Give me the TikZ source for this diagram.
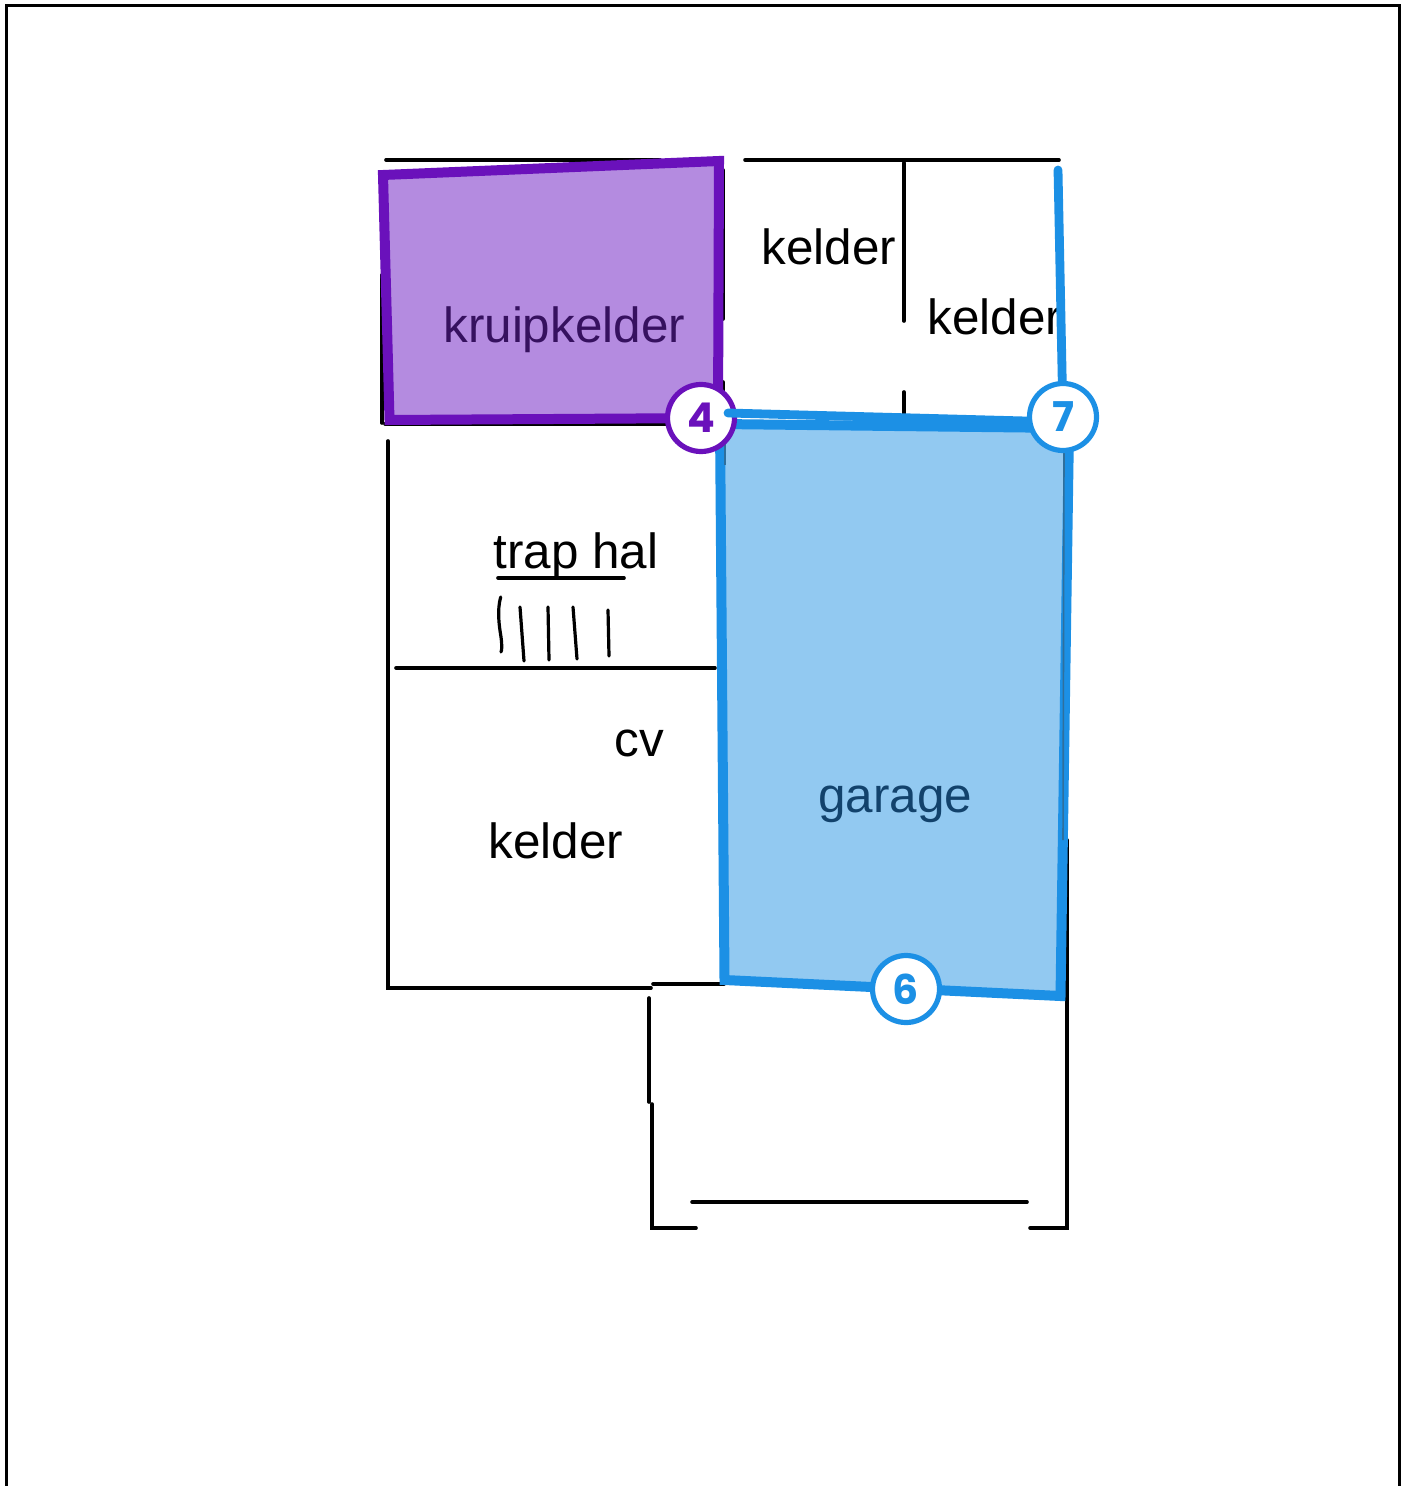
\documentclass[tikz,border=0pt]{standalone}
\usepackage{fontspec}
\setmainfont{Liberation Sans}
\newfontfamily\badgefont{Poppins}
\definecolor{purpleline}{HTML}{6A11BB}
\definecolor{purplefill}{HTML}{B48BE0}
\definecolor{purpletext}{HTML}{36115F}
\definecolor{blueline}{HTML}{1C90E5}
\definecolor{bluefill}{HTML}{92C9F1}
\definecolor{bluetext}{HTML}{12426C}
\definecolor{blueedge}{HTML}{2F6F9C}
\tikzset{
  wall/.style={draw=black,line width=1.8pt,line cap=round},
  stair/.style={draw=black,line width=1.6pt,line cap=round},
  label/.style={anchor=base west,inner sep=0pt,font=\fontsize{24.7}{28}\selectfont},
  room/.style={line width=5pt,line join=miter,draw=#1},
  badge/.style={circle,draw=#1,fill=white,line width=2.6pt,minimum size=33.5pt,inner sep=0pt,text=#1,font=\badgefont\bfseries\fontsize{20.5}{22}\selectfont}
}
\begin{document}
\begin{tikzpicture}[x=0.5pt,y=-0.5pt]
\useasboundingbox (0,0) rectangle (1405,1486);
\fill[white] (0,0) rectangle (1405,1486);
% page frame
\draw[black,line width=1.5pt] (6,1486) -- (6,5.5) -- (1399,5.5) -- (1399,1486);
% walls
\draw[wall] (386,160) -- (660,160);
\draw[wall] (745,160) -- (1059,160);
\draw[wall] (904,163) -- (904,321);
\draw[wall] (904,392) -- (904,416);
\draw[wall] (723,170) -- (723,319);
\draw[wall] (723,382) -- (723,420);
\draw[wall] (382,275) -- (382,423);
\draw[wall] (385,424) -- (700,424);
\draw[wall] (388,441) -- (388,988) -- (651,988);
\draw[wall] (653,984) -- (724,984);
\draw[wall] (649,998) -- (649,1102);
\draw[wall] (652,1104) -- (652,1228) -- (696,1228);
\draw[wall] (692,1202) -- (1027,1202);
\draw[wall] (1030,1228) -- (1067,1228) -- (1067,840);
\draw[wall] (396,668) -- (715,668);
\draw[wall] (498,578) -- (624,578);
% stairs
\draw[stair] (500.7,597) .. controls (497,610) and (499,625) .. (501,637) .. controls (502,645) and (502,650) .. (501,652);
\draw[stair] (520,607) -- (524,661);
\draw[stair] (548,607) -- (549,660);
\draw[stair] (573,607) -- (577,659);
\draw[stair] (608,610) -- (609,656);
% room labels outside the coloured rooms
\node[label] (keldera) at (761,264.5) {kelder};
\node[label] (kelderb) at (927,334.5) {kelder};
\node[label] (traphal) at (493,568) {trap hal};
\node[label] (cv) at (614,756) {cv};
\node[label] (kelderc) at (488,858.5) {kelder};
% coloured rooms
\path[room=purpleline,fill=purplefill] (383,175) -- (719,161) -- (718,418) -- (389.5,420) -- cycle;
\path[room=blueline,fill=bluefill] (720,424) -- (1069,428) -- (1060.5,996) -- (724.5,980) -- cycle;
\draw[draw=blueedge,line width=1.1pt] (725,441) -- (725,465);
\draw[draw=blueedge,line width=0.8pt] (1064,450) -- (1063,840);
\node[label,text=purpletext] (kruip) at (443,342.5) {kruipkelder};
\node[label,text=bluetext] (garage) at (818,812) {garage};
% badges
\node[badge=purpleline] (four) at (701,418) {4};
\draw[draw=blueline,line width=4.4pt,line cap=round,line join=round] (1058,170) -- (1063,420) -- (1063,422) -- (728,413);
\node[badge=blueline] (seven) at (1063,417) {7};
\node[badge=blueline] (six) at (906,989) {6};
\end{tikzpicture}
\end{document}
